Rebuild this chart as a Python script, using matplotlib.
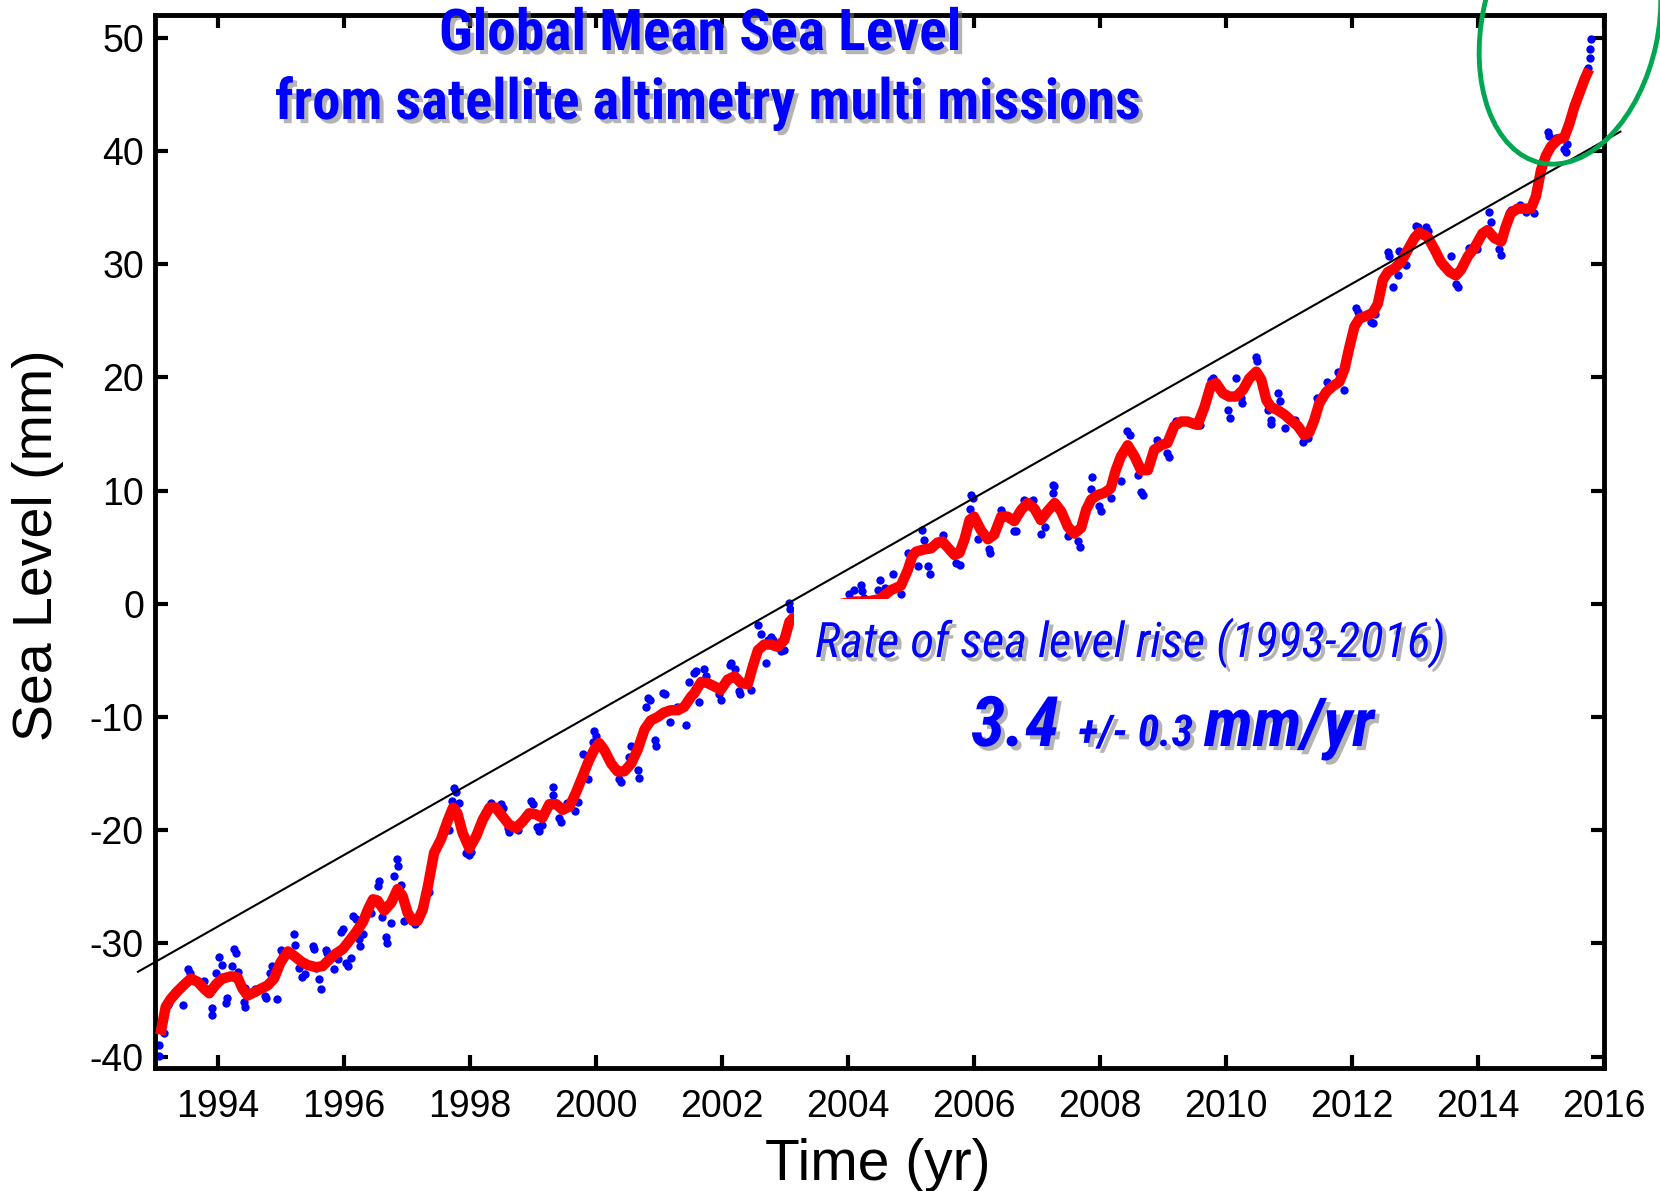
import numpy as np
import matplotlib
matplotlib.use("Agg")
import matplotlib.pyplot as plt
from matplotlib import patheffects as pe
from matplotlib.patches import Ellipse, Rectangle
from matplotlib.transforms import IdentityTransform
import matplotlib.font_manager as fm

# ---------------- data ----------------
red_years = [1993.10, 1993.17, 1993.25, 1993.36, 1993.47, 1993.57, 1993.68, 1993.78, 1993.86, 1993.97,
             1994.07, 1994.21, 1994.31, 1994.39, 1994.47, 1994.58, 1994.68, 1994.79, 1994.89, 1994.99,
             1995.11, 1995.21, 1995.32, 1995.42, 1995.56, 1995.66, 1995.77, 1995.87, 1995.98, 1996.08,
             1996.19, 1996.30, 1996.38, 1996.46, 1996.53, 1996.64, 1996.75, 1996.85, 1996.93, 1997.01,
             1997.09, 1997.17, 1997.25, 1997.33, 1997.43, 1997.54, 1997.65, 1997.73, 1997.80, 1997.88,
             1997.99, 1998.10, 1998.20, 1998.31, 1998.41, 1998.52, 1998.62, 1998.73, 1998.84, 1998.94,
             1999.05, 1999.15, 1999.26, 1999.37, 1999.47, 1999.58, 1999.68, 1999.79, 1999.89, 1999.97,
             2000.05, 2000.13, 2000.24, 2000.34, 2000.45, 2000.56, 2000.66, 2000.77, 2000.87, 2000.98,
             2001.08, 2001.19, 2001.30, 2001.40, 2001.51, 2001.56, 2001.67, 2001.77, 2001.88, 2001.98,
             2002.09, 2002.20, 2002.30, 2002.41, 2002.49, 2002.57, 2002.67, 2002.78, 2002.88, 2002.99,
             2003.07, 2003.12, 2003.30, 2003.50, 2003.70, 2003.90, 2004.10, 2004.30, 2004.50, 2004.68,
             2004.84, 2004.95, 2005.02, 2005.08, 2005.21, 2005.32, 2005.42, 2005.50, 2005.61, 2005.69,
             2005.77, 2005.85, 2005.93, 2006.00, 2006.11, 2006.22, 2006.32, 2006.43, 2006.53, 2006.64,
             2006.75, 2006.85, 2006.96, 2007.06, 2007.17, 2007.28, 2007.38, 2007.49, 2007.59, 2007.70,
             2007.78, 2007.86, 2007.96, 2008.07, 2008.17, 2008.25, 2008.33, 2008.44, 2008.55, 2008.65,
             2008.76, 2008.86, 2008.97, 2009.07, 2009.18, 2009.29, 2009.39, 2009.48, 2009.55, 2009.66,
             2009.76, 2009.84, 2009.95, 2010.05, 2010.16, 2010.27, 2010.37, 2010.48, 2010.56, 2010.64,
             2010.71, 2010.82, 2010.93, 2011.03, 2011.14, 2011.24, 2011.32, 2011.40, 2011.48, 2011.59,
             2011.69, 2011.80, 2011.88, 2011.96, 2012.04, 2012.12, 2012.22, 2012.33, 2012.41, 2012.49,
             2012.57, 2012.67, 2012.78, 2012.88, 2012.99, 2013.07, 2013.20, 2013.31, 2013.41, 2013.55,
             2013.65, 2013.73, 2013.84, 2013.94, 2014.07, 2014.15, 2014.26, 2014.37, 2014.44, 2014.52,
             2014.63, 2014.73, 2014.84, 2014.92, 2015.00, 2015.08, 2015.16, 2015.27, 2015.37, 2015.45,
             2015.53, 2015.61, 2015.69, 2015.73]
red_mm = [-37.6, -35.6, -34.9, -34.2, -33.6, -33.1, -33.4, -34.0, -34.4, -33.6,
          -33.1, -32.9, -33.0, -34.0, -34.6, -34.3, -34.0, -33.7, -33.1, -31.7,
          -30.7, -31.1, -31.6, -31.9, -32.1, -32.0, -31.4, -30.9, -30.5, -29.8,
          -29.0, -28.1, -27.0, -26.1, -26.2, -27.1, -26.4, -25.2, -25.8, -27.3,
          -28.0, -28.0, -27.0, -25.0, -22.0, -20.8, -19.1, -18.0, -18.5, -20.2,
          -21.6, -20.5, -19.1, -18.0, -18.0, -18.8, -19.5, -19.8, -19.2, -18.5,
          -18.6, -18.9, -17.7, -17.7, -18.2, -17.9, -16.7, -15.2, -13.8, -12.9,
          -12.3, -12.9, -14.1, -14.8, -14.8, -14.1, -12.9, -11.1, -10.3, -10.0,
          -9.6, -9.4, -9.4, -9.1, -8.2, -7.9, -6.9, -7.0, -7.3, -7.6,
          -6.7, -6.4, -7.0, -7.1, -5.5, -4.1, -3.6, -3.6, -3.8, -3.2,
          -1.6, -1.3, -0.9, -0.6, -0.3, 0.0, 0.2, 0.2, 0.4, 1.2,
          1.6, 3.0, 4.2, 4.6, 4.8, 4.9, 5.4, 5.5, 4.8, 4.3,
          4.5, 5.7, 7.4, 7.7, 6.5, 5.7, 6.1, 7.7, 7.7, 7.3,
          8.3, 8.9, 8.4, 7.4, 8.2, 8.9, 8.2, 6.8, 6.2, 6.7,
          8.3, 9.2, 9.6, 9.8, 10.2, 11.8, 13.0, 14.0, 13.0, 11.8,
          11.8, 13.6, 14.0, 14.2, 15.7, 16.1, 16.1, 15.9, 15.8, 17.4,
          19.3, 19.5, 18.6, 18.3, 18.3, 18.9, 19.9, 20.5, 19.8, 18.0,
          17.4, 17.1, 16.7, 16.2, 15.7, 14.9, 15.1, 16.2, 17.7, 18.7,
          19.2, 19.6, 20.7, 22.7, 24.5, 25.2, 25.4, 25.7, 26.5, 28.6,
          29.3, 29.6, 30.2, 31.2, 32.3, 32.8, 32.4, 31.3, 30.2, 29.3,
          29.0, 29.5, 30.7, 31.4, 32.7, 33.0, 32.3, 32.0, 33.3, 34.5,
          34.9, 34.9, 34.9, 36.0, 38.3, 39.6, 40.4, 41.0, 41.2, 42.4,
          43.9, 45.1, 46.3, 46.8]

blue_years = [1993.07, 1993.07, 1993.14, 1993.20, 1993.33, 1993.44, 1993.52, 1993.56, 1993.78, 1993.90,
              1993.91, 1993.97, 1994.02, 1994.06, 1994.14, 1994.13, 1994.22, 1994.26, 1994.29, 1994.32,
              1994.41, 1994.43, 1994.43, 1994.58, 1994.74, 1994.76, 1994.94, 1994.83, 1994.85, 1995.00,
              1995.03, 1995.21, 1995.22, 1995.29, 1995.34, 1995.38, 1995.50, 1995.53, 1995.56, 1995.61,
              1995.64, 1995.71, 1995.73, 1995.84, 1995.90, 1995.98, 1995.95, 1996.03, 1996.06, 1996.11,
              1996.15, 1996.19, 1996.21, 1996.24, 1996.26, 1996.30, 1996.43, 1996.54, 1996.56, 1996.61,
              1996.67, 1996.69, 1996.74, 1996.79, 1996.84, 1996.86, 1996.90, 1996.96, 1997.12, 1997.35,
              1997.67, 1997.71, 1997.75, 1997.78, 1997.83, 1997.94, 1997.99, 1998.02, 1998.33, 1998.49,
              1998.52, 1998.60, 1998.62, 1998.76, 1998.97, 1999.00, 1999.07, 1999.10, 1999.15, 1999.31,
              1999.31, 1999.42, 1999.45, 1999.54, 1999.66, 1999.71, 1999.79, 1999.87, 1999.95, 1999.97,
              2000.00, 2000.37, 2000.40, 2000.53, 2000.56, 2000.67, 2000.69, 2000.79, 2000.82, 2000.85,
              2000.93, 2000.95, 2001.06, 2001.09, 2001.17, 2001.29, 2001.43, 2001.48, 2001.56, 2001.59,
              2001.64, 2001.72, 2001.75, 2001.96, 2001.98, 2002.12, 2002.14, 2002.20, 2002.27, 2002.29,
              2002.46, 2002.57, 2002.62, 2002.70, 2002.73, 2002.78, 2002.81, 2002.94, 2002.98, 2003.07,
              2003.08, 2004.02, 2004.10, 2004.20, 2004.23, 2004.26, 2004.47, 2004.51, 2004.58, 2004.71,
              2004.84, 2004.95, 2005.11, 2005.18, 2005.21, 2005.27, 2005.30, 2005.50, 2005.71, 2005.77,
              2005.93, 2005.95, 2005.99, 2006.06, 2006.24, 2006.25, 2006.43, 2006.45, 2006.64, 2006.67,
              2006.80, 2006.93, 2007.06, 2007.12, 2007.25, 2007.27, 2007.25, 2007.49, 2007.65, 2007.69,
              2007.88, 2007.86, 2007.99, 2008.02, 2008.17, 2008.33, 2008.43, 2008.47, 2008.60, 2008.65,
              2008.68, 2008.91, 2009.07, 2009.10, 2009.20, 2009.58, 2009.76, 2009.79, 2010.03, 2010.07,
              2010.16, 2010.24, 2010.26, 2010.48, 2010.49, 2010.66, 2010.71, 2010.72, 2010.82, 2010.85,
              2010.93, 2011.09, 2011.22, 2011.30, 2011.45, 2011.61, 2011.77, 2011.88, 2012.06, 2012.09,
              2012.04, 2012.30, 2012.33, 2012.36, 2012.57, 2012.58, 2012.65, 2012.73, 2012.75, 2012.86,
              2013.02, 2013.04, 2013.17, 2013.20, 2013.44, 2013.57, 2013.65, 2013.68, 2013.86, 2013.99,
              2014.18, 2014.20, 2014.34, 2014.37, 2014.52, 2014.66, 2014.76, 2014.89, 2015.11, 2015.13,
              2015.24, 2015.37, 2015.40, 2015.42, 2015.74, 2015.77, 2015.78, 2015.80]
blue_mm = [-39.0, -39.9, -37.9, -35.4, -34.2, -35.4, -32.3, -32.6, -33.3, -35.7,
           -36.3, -32.6, -31.2, -31.9, -34.8, -35.3, -32.0, -30.5, -30.8, -32.5,
           -35.2, -35.6, -33.9, -34.0, -34.6, -34.8, -34.9, -32.6, -32.0, -30.6,
           -30.9, -29.2, -30.1, -32.2, -33.0, -32.7, -30.2, -30.5, -32.2, -33.1,
           -34.0, -30.6, -30.8, -32.3, -31.4, -28.7, -29.0, -31.7, -32.0, -31.3,
           -27.6, -27.8, -29.2, -29.6, -30.2, -29.2, -27.3, -24.9, -24.5, -27.7,
           -29.4, -30.0, -28.2, -24.0, -22.5, -23.2, -24.8, -28.0, -28.3, -25.5,
           -20.0, -17.4, -16.3, -16.6, -17.6, -22.0, -22.2, -21.9, -17.6, -17.7,
           -18.0, -19.8, -20.2, -20.0, -17.4, -17.7, -19.7, -20.1, -19.5, -16.2,
           -16.9, -18.9, -19.3, -17.6, -18.3, -17.5, -13.3, -15.5, -12.2, -11.2,
           -11.7, -15.5, -15.7, -13.5, -12.6, -14.7, -15.4, -9.1, -8.3, -8.5,
           -12.0, -12.6, -7.9, -8.0, -10.4, -9.1, -10.7, -6.9, -6.1, -5.9,
           -8.7, -5.8, -6.4, -8.0, -8.5, -5.4, -5.2, -5.8, -7.7, -8.0,
           -7.6, -1.9, -2.7, -5.2, -3.2, -2.9, -3.2, -4.2, -4.1, 0.1,
           -0.5, 0.9, 1.2, 1.7, 1.1, 0.5, 1.2, 2.1, 1.4, 2.6,
           0.9, 4.5, 3.3, 6.5, 5.6, 3.3, 2.6, 6.1, 3.6, 3.4,
           8.4, 9.6, 9.3, 5.7, 4.8, 4.5, 8.3, 8.0, 6.4, 6.4,
           9.2, 9.2, 6.2, 6.8, 10.5, 10.4, 9.8, 6.0, 5.5, 5.0,
           11.2, 10.1, 8.6, 8.2, 9.3, 10.8, 15.3, 14.9, 11.4, 9.9,
           9.6, 14.5, 13.3, 13.0, 16.1, 15.8, 19.8, 19.9, 17.1, 16.4,
           19.9, 18.2, 17.7, 21.8, 21.4, 17.1, 16.2, 15.9, 18.6, 17.9,
           15.5, 16.2, 14.3, 14.6, 18.2, 19.6, 20.5, 18.9, 26.1, 25.8,
           24.6, 24.9, 24.8, 25.6, 31.1, 30.7, 28.0, 29.0, 31.2, 29.9,
           33.4, 33.3, 33.3, 32.9, 29.8, 30.7, 28.2, 28.0, 31.4, 31.3,
           34.6, 33.7, 31.3, 30.8, 34.8, 35.2, 34.6, 34.5, 41.7, 41.3,
           41.1, 40.2, 39.9, 40.6, 47.3, 48.2, 49.0, 49.9]

trend_years = [1992.73, 2016.26]
trend_mm = [-32.5, 41.7]

x_ticks = [1994, 1996, 1998, 2000, 2002, 2004, 2006, 2008, 2010, 2012, 2014, 2016]
y_ticks = [-40, -30, -20, -10, 0, 10, 20, 30, 40, 50]

title_lines = ["Global Mean Sea Level", "from satellite altimetry multi missions"]
rate_label = "Rate of sea level rise (1993-2016)"
rate_value, rate_err, rate_unit = "3.4", "+/- 0.3", "mm/yr"

# ---------------- fonts ----------------
PREF = ["Liberation Sans Narrow", "Arial Narrow", "Roboto Condensed", "Archivo Narrow",
        "Open Sans Condensed", "Barlow Semi Condensed", "Asap Condensed"]


def wnum(w):
    if isinstance(w, (int, float)):
        return w
    return {"bold": 700, "normal": 400, "regular": 400, "medium": 500}.get(str(w).lower(), 400)


def pick(bold, italic):
    for n in PREF:
        for f in fm.fontManager.ttflist:
            if f.name != n:
                continue
            isb = wnum(f.weight) >= 650
            isi = f.style in ("italic", "oblique")
            if isb == bold and isi == italic:
                return n
    return "Liberation Sans"


F_TITLE = pick(True, False)
F_RATE = pick(False, True)
F_VAL = pick(True, True)

plt.rcParams["font.family"] = ["Liberation Sans", "DejaVu Sans"]
plt.rcParams["axes.unicode_minus"] = False

W, H = 1660, 1191
fig = plt.figure(figsize=(W / 100, H / 100), dpi=100)
ax = fig.add_axes([155 / W, 1 - 1068 / H, (1604 - 155) / W, (1068 - 15) / H])

ax.plot(blue_years, blue_mm, "o", color="#0000ff", ms=6, mec="none", zorder=2)
ax.plot(red_years, red_mm, "-", color="#ff0000", lw=7.5, zorder=3)
ax.add_patch(Rectangle((2003.15, -25), 10.5, 25.45, fc="white", ec="none", zorder=4))
ax.plot(trend_years, trend_mm, color="black", lw=1.5, zorder=5, clip_on=False)

ax.set_xlim(1993, 2016)
ax.set_ylim(-41, 52)
ax.set_xticks(x_ticks)
ax.set_yticks(y_ticks)
ax.tick_params(direction="in", length=9.5, width=3, top=True, right=True, labelsize=27)
ax.tick_params(axis="x", pad=15)
ax.tick_params(axis="y", pad=8)
for s in ax.spines.values():
    s.set_linewidth(3.5)

ax.set_xlabel("Time (yr)", fontsize=41, va="baseline")
ax.xaxis.set_label_coords(0.499, -0.1064)
ax.set_ylabel("Sea Level (mm)", fontsize=40, va="center")
ax.yaxis.set_label_coords((38 - 155) / 1449, 0.4967)

shadow = [pe.SimplePatchShadow(offset=(3, -3), shadow_rgbFace="#777777", alpha=0.55), pe.Normal()]
blue = "#0000ff"
renderer = fig.canvas.get_renderer()


def fit_text(xl, yb, s, target_w, **kw):
    t = fig.text(xl / W, 1 - yb / H, s, ha="left", va="baseline", color=blue, fontsize=40,
                 path_effects=shadow, zorder=10, **kw)
    w = t.get_window_extent(renderer=renderer).width
    t.set_fontsize(40 * target_w / w)
    return t


fit_text(439, 50, title_lines[0], 522, family=F_TITLE, fontweight="bold")
fit_text(275, 119, title_lines[1], 865, family=F_TITLE, fontweight="bold")
fit_text(815, 657, rate_label, 630, family=F_RATE, style="italic")
fit_text(971, 746, rate_value, 88, family=F_VAL, style="italic", fontweight="bold")
fit_text(1078, 746, rate_err, 115, family=F_VAL, style="italic", fontweight="bold")
fit_text(1204, 746, rate_unit, 170, family=F_VAL, style="italic", fontweight="bold")

ax.annotate("", xy=(1333, H - 793), xytext=(1383, H - 820), xycoords="figure pixels",
            textcoords="figure pixels",
            arrowprops=dict(arrowstyle="-|>", lw=3, color="black", mutation_scale=22,
                            shrinkA=0, shrinkB=0))

ell = Ellipse((1570, H - 26), 176, 280, angle=-12, fill=False, ec="#00a650", lw=3.5,
              transform=IdentityTransform(), clip_on=False, zorder=20)
fig.patches.append(ell)

fig.savefig("out.png", dpi=100)
